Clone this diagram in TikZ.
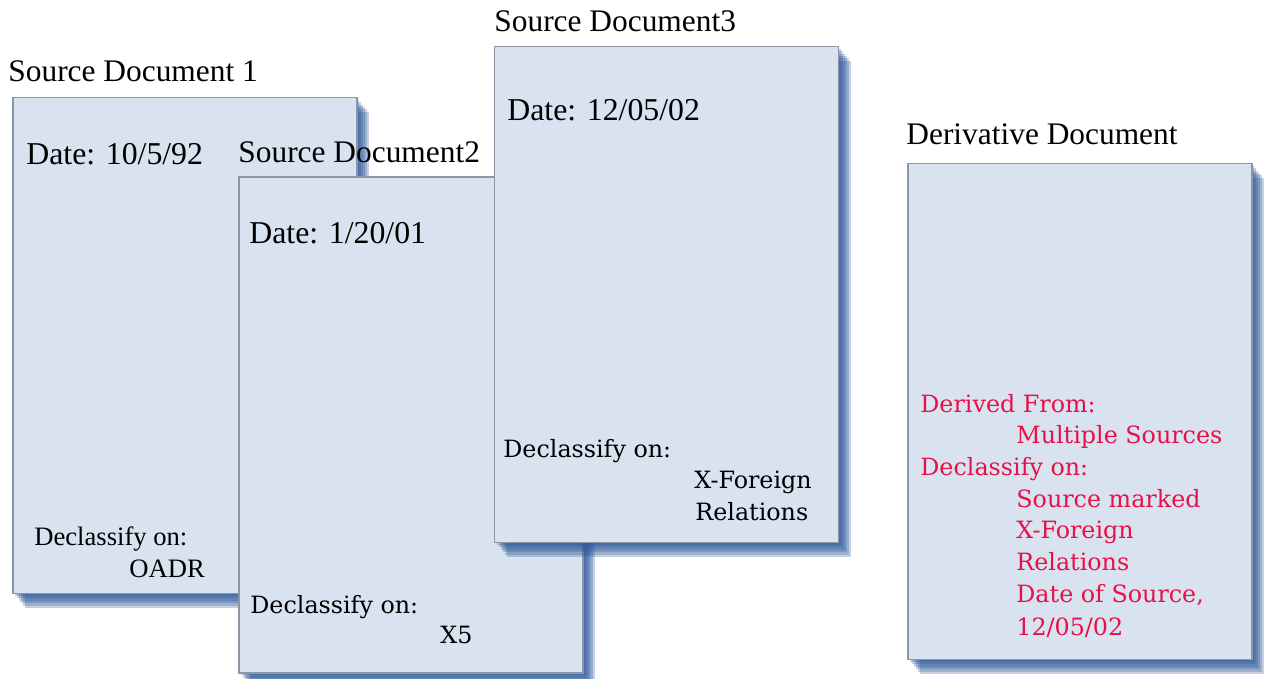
\documentclass[tikz,border=0pt]{standalone}
\usepackage{fontspec}
\setmainfont{Liberation Serif}
\newfontfamily\bookfont{DejaVu Serif}
\usetikzlibrary{shadows}
\definecolor{pageColor}{RGB}{217, 227, 240}
\definecolor{edgeColor}{RGB}{140, 150, 165}
\definecolor{shadowColor}{RGB}{40, 85, 150}
\definecolor{markColor}{RGB}{232, 16, 72}

\tikzset{
    layer/.style={general shadow={fill=shadowColor, opacity=.27, shadow xshift=#1, shadow yshift=-1.2*#1}},
    docpage/.style={draw=edgeColor, line width=.6pt, fill=pageColor, inner sep=0pt,
        minimum width=172pt, minimum height=248pt,
        layer=1pt, layer=2pt, layer=3pt, layer=4pt, layer=5pt, layer=6pt},
    heading/.style={anchor=base west, inner sep=0pt, font=\fontsize{15.7}{18}\selectfont},
    dateline/.style={anchor=base west, inner sep=0pt, font=\fontsize{15.9}{18}\selectfont},
    smallnote/.style={anchor=base west, inner sep=0pt, font=\fontsize{13.3}{16}\selectfont},
    booknote/.style={anchor=base west, inner sep=0pt, font=\bookfont\fontsize{11.9}{16}\selectfont},
    derivnote/.style={booknote, text=markColor}
}

\begin{document}
\begin{tikzpicture}[x=0.5pt, y=-0.5pt]
    \useasboundingbox (0,0) rectangle (1264,679);

    % Pages
    \node[docpage] (src1) at (185,345.5) {};
    \node[docpage] (src2) at (411,425) {};
    \node[docpage] (src3) at (666.5,294.5) {};
    \node[docpage] (deriv) at (1080,411.5) {};

    % Titles
    \node[heading] (src1title) at (8,82) {Source Document 1};
    \node[heading] (src2title) at (238,163) {Source Document2};
    \node[heading] (src3title) at (494,32) {Source Document3};
    \node[heading] (derivtitle) at (906,145) {Derivative Document};

    % Source document 1
    \node[dateline] (src1date) at (26,165) {Date: 10/5/92};
    \node[smallnote] (src1decl) at (34,545) {Declassify on:};
    \node[smallnote] (src1code) at (129,577) {OADR};

    % Source document 2
    \node[dateline] (src2date) at (249,244) {Date: 1/20/01};
    \node[booknote] (src2decl) at (250,613) {Declassify on:};
    \node[booknote] (src2code) at (440,643) {X5};

    % Source document 3
    \node[dateline] (src3date) at (507,121) {Date: 12/05/02};
    \node[booknote] (src3decl) at (503,457) {Declassify on:};
    \node[booknote] (src3code) at (694,488) {X-Foreign};
    \node[booknote] (src3codeb) at (695,520) {Relations};

    % Derivative document
    \node[derivnote] (derivfrom) at (920,412) {Derived From:};
    \node[derivnote] (derivsrc) at (1016,443) {Multiple Sources};
    \node[derivnote] (derivdecl) at (920,475) {Declassify on:};
    \node[derivnote] (derivmark) at (1016,507) {Source marked};
    \node[derivnote] (derivcode) at (1016,538) {X-Foreign};
    \node[derivnote] (derivcodeb) at (1016,570) {Relations};
    \node[derivnote] (derivdate) at (1016,602) {Date of Source,};
    \node[derivnote] (derivdateb) at (1016,635) {12/05/02};
\end{tikzpicture}
\end{document}
